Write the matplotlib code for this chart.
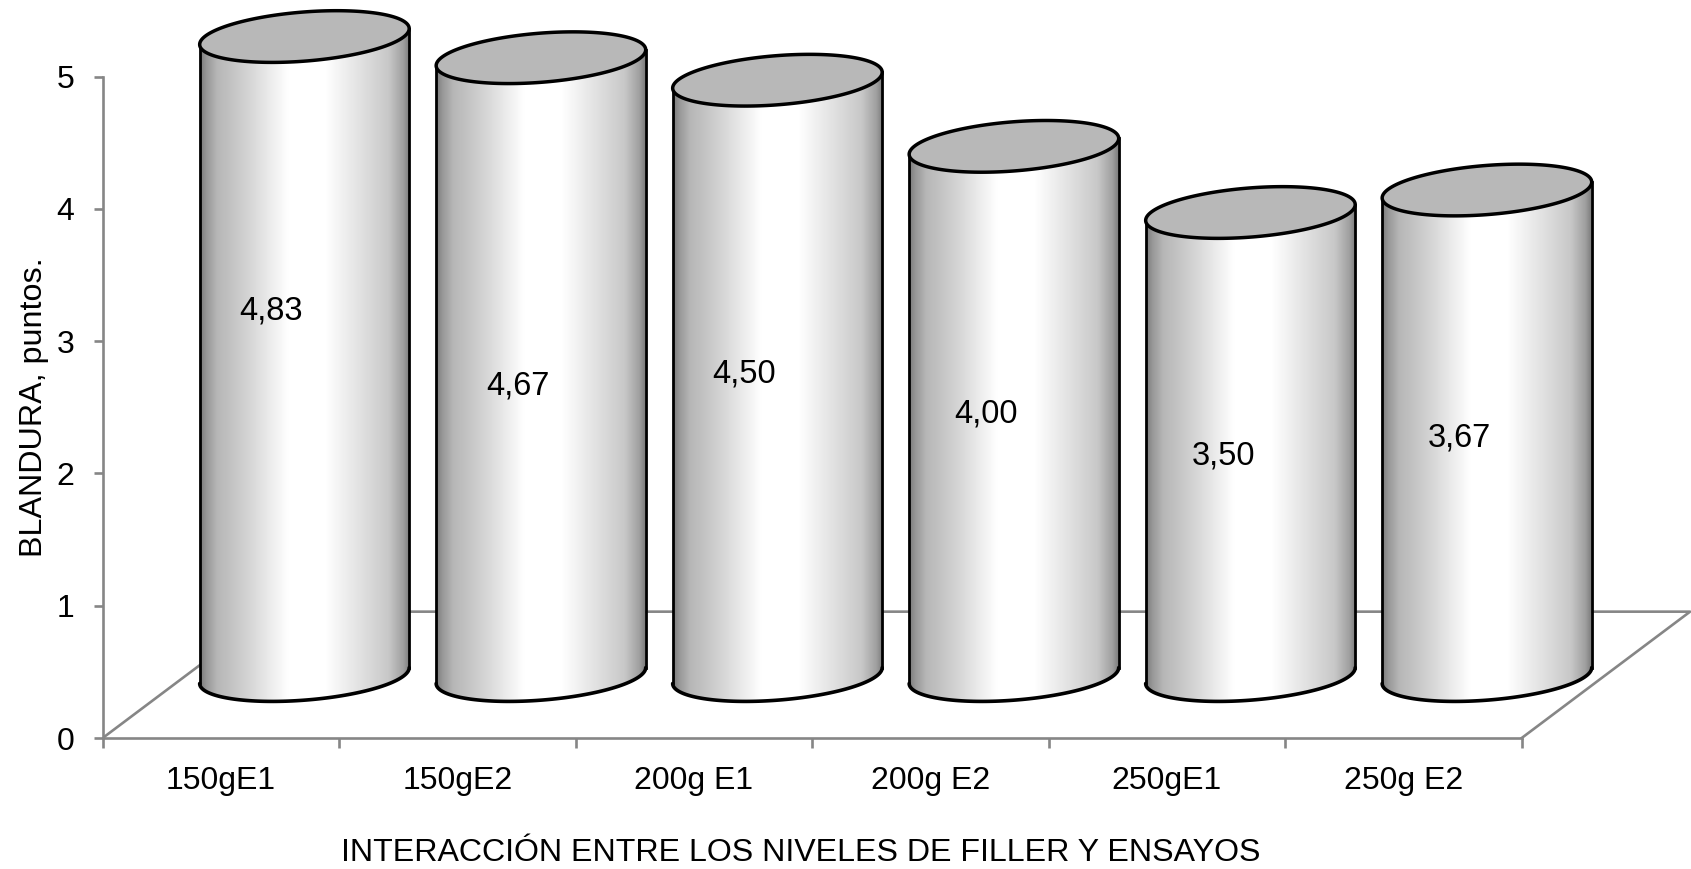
import matplotlib
matplotlib.use("Agg")
import matplotlib.pyplot as plt
import numpy as np
from matplotlib.patches import PathPatch
from matplotlib.path import Path
from matplotlib.colors import LinearSegmentedColormap

categorias = ["150gE1", "150gE2", "200g E1", "200g E2", "250gE1", "250g E2"]
blandura = [4.83, 4.67, 4.50, 4.00, 3.50, 3.67]
yticks = [0, 1, 2, 3, 4, 5]

# donde va cada etiqueta de valor (x en categorias, y en puntos)
pos_etiquetas = [(0.71, 3.23), (1.755, 2.66), (2.71, 2.75), (3.735, 2.45), (4.74, 2.13), (5.735, 2.265)]

plt.rcParams["font.family"] = ["Liberation Sans", "DejaVu Sans"]

GRIS = "#868686"
DX, DY = 0.712, 0.955      # profundidad del piso
CENTRO_X = 0.853           # centro del cilindro dentro de cada categoria
BASE_Y = 0.472             # altura del centro de la base
RX, RY_TILT, RY = 0.443, 0.06, 0.186   # radios de la elipse

fig = plt.figure(figsize=(16.91, 8.69), dpi=100)
ax = fig.add_axes([102.7 / 1691, 131 / 869, 1588.3 / 1691, 738 / 869])
ax.set_xlim(0, 1588.3 / 236.5)
ax.set_ylim(0, 738 / 132.3)

for s in ["top", "right"]:
    ax.spines[s].set_visible(False)
ax.spines["left"].set_bounds(0, 5)
ax.spines["bottom"].set_bounds(0, 6)
ax.spines["left"].set_color(GRIS)
ax.spines["bottom"].set_color(GRIS)
ax.spines["left"].set_linewidth(1.9)
ax.spines["bottom"].set_linewidth(1.9)

ax.set_yticks(yticks)
ax.tick_params(axis="y", length=6.5, width=1.9, color=GRIS, labelsize=23, pad=14)
ax.set_xticks(range(7))
ax.set_xticklabels([])
ax.tick_params(axis="x", which="major", length=7, width=1.9, color=GRIS)
ax.set_xticks(np.arange(6) + 0.5, minor=True)
ax.set_xticklabels(categorias, minor=True)
ax.tick_params(axis="x", which="minor", length=0, labelsize=23, pad=20)

# piso en perspectiva
ax.plot([0, DX, 6 + DX, 6], [0, DY, DY, 0], color=GRIS, lw=1.9, zorder=1)

# degradado horizontal del cuerpo
grad = LinearSegmentedColormap.from_list("cuerpo", [
    (0.00, "#7c7c7c"), (0.03, "#989898"), (0.08, "#b6b6b6"), (0.22, "#d2d2d2"),
    (0.36, "#f2f2f2"), (0.42, "#ffffff"), (0.60, "#ffffff"), (0.75, "#e4e4e4"),
    (0.90, "#c8c8c8"), (0.97, "#a0a0a0"), (1.00, "#7c7c7c")])
franja = np.linspace(0, 1, 256).reshape(1, -1)

t = np.linspace(0, 2 * np.pi, 200)
t_inf = np.linspace(np.pi, 2 * np.pi, 100)

for i, v in enumerate(blandura):
    cx = i + CENTRO_X
    y_top = BASE_Y + v

    # contorno del cuerpo: lado izq, media elipse inferior, lado der
    xb = cx + RX * np.cos(t_inf)
    yb = BASE_Y + RY_TILT * np.cos(t_inf) + RY * np.sin(t_inf)
    xs = np.r_[cx - RX, xb, cx + RX]
    ys = np.r_[y_top - RY_TILT, yb, y_top + RY_TILT]
    body = PathPatch(Path(np.c_[xs, ys]), fc="none", ec="none", zorder=2)
    ax.add_patch(body)
    im = ax.imshow(franja, cmap=grad, aspect="auto", vmin=0, vmax=1, zorder=2,
                   extent=[cx - RX, cx + RX, BASE_Y - 0.3, y_top + 0.2])
    im.set_clip_path(body)

    ax.plot(xb, yb, color="black", lw=2.6, zorder=3, solid_capstyle="round")
    ax.plot([cx - RX, cx - RX], [y_top - RY_TILT, yb[0]], color="black", lw=2.0, zorder=3)
    ax.plot([cx + RX, cx + RX], [y_top + RY_TILT, yb[-1]], color="black", lw=2.0, zorder=3)

    # tapa superior
    xt = cx + RX * np.cos(t)
    yt = y_top + RY_TILT * np.cos(t) + RY * np.sin(t)
    ax.fill(xt, yt, fc="#b8b8b8", ec="black", lw=2.5, zorder=4)

    ex, ey = pos_etiquetas[i]
    ax.text(ex, ey, f"{v:.2f}".replace(".", ","), fontsize=23.5, ha="center", va="center", zorder=5)

ax.set_xlim(0, 1588.3 / 236.5)
ax.set_ylim(0, 738 / 132.3)

ax.set_xlabel("INTERACCIÓN ENTRE LOS NIVELES DE FILLER Y ENSAYOS", fontsize=23.1, va="center")
ax.xaxis.set_label_coords(0.4396, -0.1555)
ax.set_ylabel("BLANDURA, puntos.", fontsize=23.2, va="center")
ax.yaxis.set_label_coords(-0.0432, 0.4485)

fig.savefig("out.png", dpi=100)
